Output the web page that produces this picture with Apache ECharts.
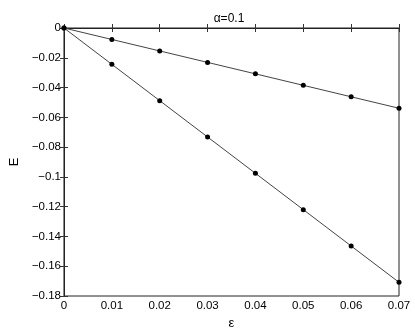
<!DOCTYPE html>
<html>
<head>
<meta charset="utf-8">
<script src="https://cdn.jsdelivr.net/npm/echarts@6/dist/echarts.min.js"></script>
<style>
html,body{margin:0;padding:0;background:#fff;}
#chart{width:415px;height:335px;}
</style>
</head>
<body>
<div id="chart"></div>
<script>
// 横轴 ε 取值
var epsList = [0, 0.01, 0.02, 0.03, 0.04, 0.05, 0.06, 0.07];
// 上面一条线
var eUpper = [0, -0.0077, -0.0154, -0.0231, -0.0308, -0.0385, -0.0462, -0.0539];
// 下面一条线
var eLower = [0, -0.0244, -0.0488, -0.0732, -0.0976, -0.1220, -0.1464, -0.1708];

function pairs(xs, ys){
	var out = [];
	for(var i=0;i<xs.length;i++){
		out.push([xs[i], ys[i]]);
	}
	return out;
}

function fmt(v){
	return String(Math.round(v*100)/100).replace('-', '\u2212');
}

var font = 'Liberation Sans, Arial, sans-serif';
var myChart = echarts.init(document.getElementById('chart'));

var tickIn = {show:true, inside:true, length:4, lineStyle:{color:'#333'}};

var option = {
	animation:false,
	title:{
		text:'\u03b1=0.1',
		left:224, top:8, textAlign:'center',
		textStyle:{fontFamily:font, fontSize:12, fontWeight:'normal', color:'#000'}
	},
	grid:{left:48, right:16, top:28, bottom:31, show:true, borderColor:'#222', borderWidth:1},
	xAxis:[{
		type:'value', min:0, max:0.07, interval:0.01,
		name:'\u03b5', nameLocation:'middle', nameGap:21,
		nameTextStyle:{fontFamily:font, fontSize:13, color:'#000'},
		axisLine:{show:true, lineStyle:{color:'#222'}},
		axisTick:tickIn,
		axisLabel:{fontFamily:font, fontSize:11.5, color:'#000', margin:4, formatter:fmt},
		splitLine:{show:false}
	},{
		type:'value', position:'top', min:0, max:0.07, interval:0.01,
		axisLine:{show:true, lineStyle:{color:'#222'}},
		axisTick:tickIn, axisLabel:{show:false}, splitLine:{show:false}
	}],
	yAxis:[{
		type:'value', min:-0.18, max:0, interval:0.02,
		name:'E', nameLocation:'middle', nameGap:38, nameRotate:90,
		nameTextStyle:{fontFamily:font, fontSize:13, color:'#000'},
		axisLine:{show:true, lineStyle:{color:'#888', width:2}},
		axisTick:tickIn,
		axisLabel:{fontFamily:font, fontSize:11.5, color:'#000', margin:3, formatter:fmt},
		splitLine:{show:false}
	},{
		type:'value', position:'right', min:-0.18, max:0, interval:0.02,
		axisLine:{show:true, lineStyle:{color:'#222'}},
		axisTick:tickIn, axisLabel:{show:false}, splitLine:{show:false}
	}],
	series:[{
		type:'line', data:pairs(epsList, eUpper),
		symbol:'circle', symbolSize:5,
		lineStyle:{color:'#444', width:1},
		itemStyle:{color:'#000'}
	},{
		type:'line', data:pairs(epsList, eLower),
		symbol:'circle', symbolSize:5,
		lineStyle:{color:'#444', width:1},
		itemStyle:{color:'#000'}
	}]
};
myChart.setOption(option);
</script>
</body>
</html>
